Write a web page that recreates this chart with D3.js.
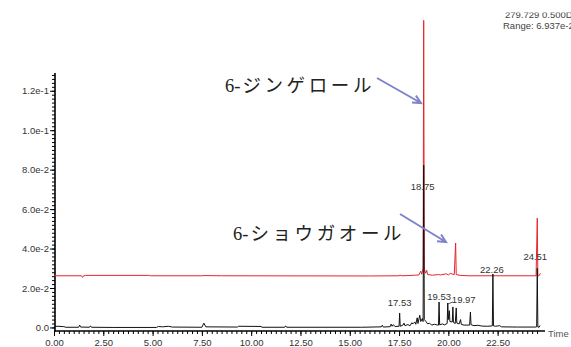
<!DOCTYPE html>
<html>
<head>
<meta charset="utf-8">
<script src="https://cdn.jsdelivr.net/npm/d3@7"></script>
<style>
  body { margin: 0; background: #fff; }
  svg { display: block; }
  .tick text { font-family: "Liberation Sans", Arial, sans-serif; font-size: 9.5px; fill: #333; }
  .axis path, .axis line { stroke: #000; }
  .peak { font-family: "Liberation Sans", Arial, sans-serif; font-size: 9.5px; fill: #333; }
  .jp { font-family: "Liberation Serif", "Noto Sans CJK JP", serif; font-size: 18.5px; fill: #222; }
</style>
</head>
<body>
<div class="chart"></div>
<script>
var svgWidth = 571;
var svgHeight = 347;

// tick values and labels
var yMajor = [0, 0.02, 0.04, 0.06, 0.08, 0.10, 0.12];
var yLabels = ["0.0", "2.0e-2", "4.0e-2", "6.0e-2", "8.0e-2", "1.0e-1", "1.2e-1"];
var xMajor = [0, 2.5, 5, 7.5, 10, 12.5, 15, 17.5, 20, 22.5];
var xLabels = ["0.00", "2.50", "5.00", "7.50", "10.00", "12.50", "15.00", "17.50", "20.00", "22.50"];

// black trace (time, intensity)
var blackTrace = [
  [0, 0.0005], [0.2, 0.0006], [0.5, 0.0004], [0.6, 0.0001], [1.25, 0.0001], [1.3, 0.0012], [1.35, 0.0002],
  [1.8, 0.0001], [1.85, 0.0008], [1.9, 0.0001], [3.0, 0.0], [5.2, 0.0], [5.3, 0.0005], [5.5, 0.0003],
  [5.8, 0.0006], [6.0, 0.0002], [7.5, 0.0001], [7.6, 0.0022], [7.7, 0.0003], [9.3, 0.0002], [9.35, 0.0006],
  [10.5, 0.0005], [10.55, 0.0001], [11.7, 0.0001], [11.75, 0.0008], [11.8, 0.0001], [15.6, 0.0001],
  [16.6, 0.0003], [16.65, 0.0011], [16.7, 0.0002], [17.05, 0.0004], [17.1, 0.0017], [17.15, 0.0006],
  [17.2, 0.0014], [17.3, 0.0005], [17.5, 0.0006], [17.53, 0.0073], [17.56, 0.0006], [17.7, 0.0012],
  [17.75, 0.0022], [17.8, 0.0009], [17.95, 0.0015], [18.05, 0.0008], [18.15, 0.0024], [18.2, 0.0018],
  [18.3, 0.0028], [18.35, 0.0016], [18.42, 0.0049], [18.46, 0.002], [18.55, 0.0062], [18.6, 0.003],
  [18.68, 0.0045], [18.72, 0.003], [18.75, 0.0823], [18.78, 0.004], [18.85, 0.0032], [18.95, 0.0018],
  [19.05, 0.0022], [19.15, 0.0012], [19.3, 0.0016], [19.45, 0.0012], [19.5, 0.0012], [19.53, 0.0129],
  [19.56, 0.0013], [19.7, 0.0018], [19.8, 0.0013], [19.94, 0.002], [19.97, 0.0124], [20.0, 0.004],
  [20.05, 0.0085], [20.08, 0.003], [20.2, 0.0028], [20.23, 0.0104], [20.26, 0.0025], [20.35, 0.002],
  [20.4, 0.0099], [20.43, 0.0022], [20.55, 0.0018], [20.62, 0.004], [20.66, 0.0015], [20.8, 0.0012],
  [21.08, 0.0012], [21.12, 0.0078], [21.15, 0.0014], [21.3, 0.0009], [21.5, 0.0011], [21.7, 0.0007],
  [22.0, 0.0006], [22.23, 0.0008], [22.26, 0.0271], [22.29, 0.0008], [22.4, 0.0006], [22.6, 0.0009],
  [22.7, 0.0003], [23.5, 0.0002], [24.4, 0.0002], [24.48, 0.0003], [24.51, 0.0300], [24.54, 0.0002],
  [24.6, 0.0001], [24.65, 0.001]
];

// red trace (time, intensity), drawn offset above the black one
var redTrace = [
  [0, 0.0262], [1.4, 0.0262], [1.45, 0.0254], [1.5, 0.0262], [1.6, 0.0264], [4.8, 0.0264], [4.9, 0.0262],
  [7.5, 0.0262], [7.6, 0.0263], [8.5, 0.0262], [16.0, 0.0261], [17.5, 0.0262], [17.55, 0.0266],
  [17.6, 0.0262], [18.0, 0.0263], [18.3, 0.0265], [18.5, 0.0266], [18.6, 0.0285], [18.65, 0.027],
  [18.72, 0.030], [18.75, 0.1557], [18.78, 0.0295], [18.85, 0.0275], [18.9, 0.029], [18.95, 0.0268],
  [19.2, 0.0265], [19.5, 0.0268], [19.6, 0.0266], [19.9, 0.0272], [20.0, 0.0266], [20.1, 0.0274],
  [20.3, 0.0268], [20.37, 0.0428], [20.4, 0.0268], [20.6, 0.0264], [21.0, 0.0262], [22.26, 0.0262],
  [24.45, 0.0262], [24.51, 0.0554], [24.54, 0.0262], [24.6, 0.0262], [24.67, 0.0275]
];

// peak labels
var peakTimes = [17.53, 18.75, 19.53, 19.97, 22.26, 24.51];
var peakLabels = ["17.53", "18.75", "19.53", "19.97", "22.26", "24.51"];
var peakHeights = [0.0073, 0.0823, 0.0129, 0.0124, 0.0271, 0.0300];

var namePrefix = ["6-", "6-"];
var names = ["ジンゲロール", "ショウガオール"];

var svg = d3.select(".chart")
    .append("svg")
    .attr("width", svgWidth)
    .attr("height", svgHeight);

var x = d3.scaleLinear().domain([0, 24.75]).range([54, 542]);
var y = d3.scaleLinear().domain([-0.0018, 0.129]).range([331, 73]);

var line = d3.line()
    .x(function(d) { return x(d[0]); })
    .y(function(d) { return y(d[1]); });

// minor ticks
svg.append("g")
    .attr("class", "axis")
    .attr("transform", "translate(55,0)")
    .call(d3.axisLeft(y).tickValues(d3.range(0, 0.1291, 0.002)).tickSize(3).tickFormat(""))
    .select(".domain").remove();

svg.append("g")
    .attr("class", "axis")
    .attr("transform", "translate(0,331)")
    .call(d3.axisBottom(x).tickValues(d3.range(0, 24.6, 0.25)).tickSize(3).tickFormat(""))
    .select(".domain").remove();

// major ticks
svg.append("g")
    .attr("class", "axis")
    .attr("transform", "translate(55,0)")
    .call(d3.axisLeft(y).tickValues(yMajor).tickSize(5).tickPadding(1)
        .tickFormat(function(d, i) { return yLabels[i]; }))
    .select(".domain").remove();

var xAxis = svg.append("g")
    .attr("class", "axis")
    .attr("transform", "translate(0,331)")
    .call(d3.axisBottom(x).tickValues(xMajor).tickSize(5).tickPadding(3)
        .tickFormat(function(d, i) { return xLabels[i]; }));
xAxis.select(".domain").remove();

// axis lines
svg.append("line")
    .attr("x1", 55).attr("x2", 55)
    .attr("y1", 73).attr("y2", 331.5)
    .attr("stroke", "#000").attr("stroke-width", 1.6);
svg.append("line")
    .attr("x1", 54).attr("x2", 545)
    .attr("y1", 331).attr("y2", 331)
    .attr("stroke", "#000").attr("stroke-width", 1.3);

svg.append("text")
    .attr("x", 548).attr("y", 337)
    .attr("class", "peak")
    .style("fill", "#555")
    .text("Time");

// traces
svg.append("path")
    .datum(redTrace)
    .attr("d", line)
    .attr("fill", "none")
    .attr("stroke", "#e5262b")
    .attr("stroke-width", 1);

svg.append("path")
    .datum(blackTrace)
    .attr("d", line)
    .attr("fill", "none")
    .attr("stroke", "#111")
    .attr("stroke-width", 1);

// peak labels
var labelDx = [0, -1, 0, 16, -1, -2];
var labelDy = [-7, 25, -2, 0, -1, -8];
svg.selectAll(".peak-label")
    .data(peakTimes)
    .enter()
    .append("text")
    .attr("class", "peak")
    .attr("text-anchor", "middle")
    .attr("x", function(d, i) { return x(d) + labelDx[i]; })
    .attr("y", function(d, i) { return y(peakHeights[i]) + labelDy[i]; })
    .text(function(d, i) { return peakLabels[i]; });

svg.append("line")
    .attr("x1", x(19.97)).attr("y1", y(0.0124) + 1)
    .attr("x2", x(19.97) + 5).attr("y2", y(0.0124) - 1)
    .attr("stroke", "#333").attr("stroke-width", 0.8);

// compound names and arrows
var namePos = [[225, 92], [233, 240]];
namePos.forEach(function(p, i) {
  var t = svg.append("text").attr("class", "jp").attr("x", p[0]).attr("y", p[1]);
  t.append("tspan").text(namePrefix[i]);
  t.append("tspan").attr("dx", 2).style("letter-spacing", "3.6px").text(names[i]);
});

function arrow(x1, y1, x2, y2) {
  var a = Math.atan2(y2 - y1, x2 - x1);
  var len = 9, spread = 0.45;
  svg.append("path")
      .attr("d", "M" + x1 + "," + y1 + "L" + x2 + "," + y2 +
          "M" + (x2 - len * Math.cos(a - spread)) + "," + (y2 - len * Math.sin(a - spread)) +
          "L" + x2 + "," + y2 +
          "L" + (x2 - len * Math.cos(a + spread)) + "," + (y2 - len * Math.sin(a + spread)))
      .attr("fill", "none")
      .attr("stroke", "#7f83c9")
      .attr("stroke-width", 2);
}
arrow(377, 78, 421, 103);
arrow(400, 214, 446, 242);

// header text, top cut off as in the source screenshot
svg.append("clipPath").attr("id", "hdr")
    .append("rect").attr("x", 0).attr("y", 12.5).attr("width", svgWidth).attr("height", 30);
var hdr = svg.append("g").attr("clip-path", "url(#hdr)");
hdr.append("text").attr("class", "peak").attr("x", 505).attr("y", 18).style("fill", "#444").text("279.729 0.500Da");
hdr.append("text").attr("class", "peak").attr("x", 503).attr("y", 28.5).style("fill", "#444").text("Range: 6.937e-2");
</script>
</body>
</html>
